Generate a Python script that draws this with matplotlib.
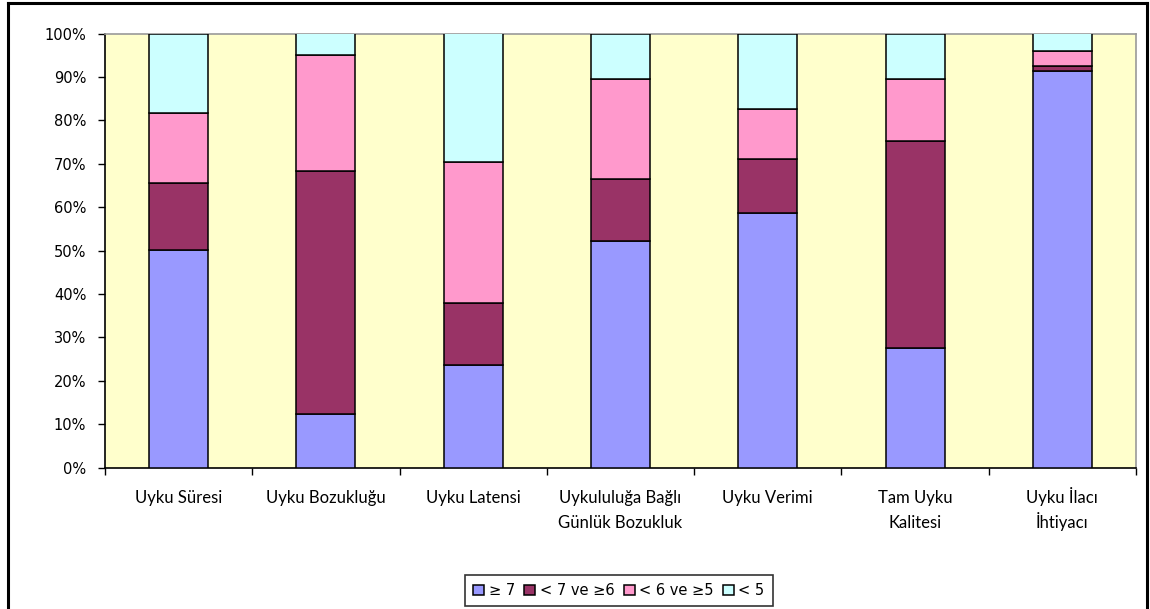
import matplotlib
matplotlib.use("Agg")
import matplotlib.pyplot as plt
import numpy as np
from matplotlib.lines import Line2D
from matplotlib.ticker import FixedLocator, PercentFormatter, NullFormatter

categories = [
    "Uyku Süresi",
    "Uyku Bozukluğu",
    "Uyku Latensi",
    "Uykululuğa Bağlı\nGünlük Bozukluk",
    "Uyku Verimi",
    "Tam Uyku\nKalitesi",
    "Uyku İlacı\nİhtiyacı",
]

series_labels = ["≥ 7", "< 7 ve ≥6", "< 6 ve ≥5", "< 5"]

ge7 = [50.1, 12.3, 23.6, 52.2, 58.7, 27.5, 91.4]
lt7_ge6 = [15.5, 56.1, 14.3, 14.2, 12.3, 47.8, 1.1]
lt6_ge5 = [16.2, 26.7, 32.5, 23.1, 11.7, 14.2, 3.5]
lt5 = [18.2, 4.9, 29.6, 10.5, 17.3, 10.5, 4.0]

colors = ["#9999FF", "#993366", "#FF99CC", "#CCFFFF"]

W, H = 1150, 609
fig = plt.figure(figsize=(W / 100, H / 100), dpi=100)
fig.patch.set_facecolor("white")

ax = fig.add_axes([105 / W, (H - 467.7) / H, (1136 - 105) / W, (467.7 - 33.5) / H])
ax.set_facecolor("#FFFFCC")

x = np.arange(len(categories))
bottom = np.zeros(len(categories))
for vals, lab, col in zip([ge7, lt7_ge6, lt6_ge5, lt5], series_labels, colors):
    ax.bar(x, vals, width=0.4, bottom=bottom, color=col, edgecolor="black",
           linewidth=1.1, label=lab, zorder=3)
    bottom += np.array(vals)

ax.set_xlim(-0.5, len(categories) - 0.5)
ax.set_ylim(0, 100)
ax.set_yticks(np.arange(0, 101, 10))
ax.yaxis.set_major_formatter(PercentFormatter(decimals=0))
ax.tick_params(axis="y", direction="out", length=5, width=1, labelsize=10.5,
               pad=8.5, colors="black")
for t in ax.get_yticklabels():
    t.set_fontfamily("DejaVu Sans")

# category names: one text per line so every line sits on a fixed baseline
ax.set_xticks(x)
ax.xaxis.set_major_formatter(NullFormatter())
ax.tick_params(axis="x", which="major", length=0)
ax.xaxis.set_minor_locator(FixedLocator(np.arange(-0.5, len(categories), 1.0)))
ax.tick_params(axis="x", which="minor", direction="out", length=5, width=1)
line_offsets = [25.4, 43.4]  # points below the axis, baseline of each line
for xi, name in zip(x, categories):
    for i, part in enumerate(name.split("\n")):
        ax.annotate(part, xy=(xi, 0), xycoords=("data", "axes fraction"),
                    xytext=(0, -line_offsets[i]), textcoords="offset points",
                    ha="center", va="baseline", fontfamily="Lato", fontsize=12,
                    color="black")

for side in ["top", "right"]:
    ax.spines[side].set_color("#999999")
    ax.spines[side].set_linewidth(1.2)
for side in ["left", "bottom"]:
    ax.spines[side].set_color("black")
    ax.spines[side].set_linewidth(1.2)

leg = fig.legend(loc="center", bbox_to_anchor=(619 / W, (H - 590.5) / H), ncol=4,
                 frameon=True, fancybox=False, edgecolor="black",
                 prop={"family": "DejaVu Sans", "size": 10.5},
                 handlelength=0.75, handleheight=0.75, handletextpad=0.3,
                 columnspacing=0.65, borderpad=0.55, borderaxespad=0)
leg.get_frame().set_linewidth(1.2)

# outer chart frame (left, top and right edges)
fx0, fx1, fy1 = 8 / W, 1147 / W, (H - 3) / H
for xs, ys in [([fx0, fx0], [0, fy1]), ([fx0, fx1], [fy1, fy1]), ([fx1, fx1], [fy1, 0])]:
    fig.add_artist(Line2D(xs, ys, transform=fig.transFigure, color="black", linewidth=2.2))

fig.savefig("out.png", dpi=100)
